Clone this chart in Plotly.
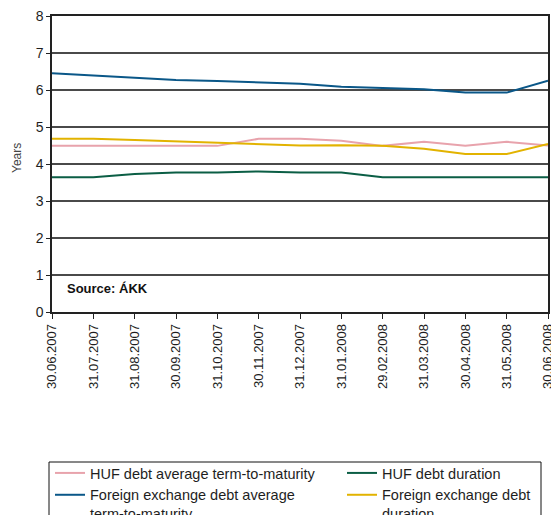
import plotly.graph_objects as go

# Month-end observation dates
dates = ["30.06.2007", "31.07.2007", "31.08.2007", "30.09.2007", "31.10.2007",
         "30.11.2007", "31.12.2007", "31.01.2008", "29.02.2008", "31.03.2008",
         "30.04.2008", "31.05.2008", "30.06.2008"]

# Years
huf_avg_ttm = [4.49, 4.49, 4.49, 4.49, 4.49, 4.68, 4.68, 4.63, 4.49, 4.60, 4.49, 4.60, 4.50]
huf_duration = [3.64, 3.64, 3.73, 3.77, 3.77, 3.80, 3.77, 3.77, 3.64, 3.64, 3.64, 3.64, 3.64]
fx_avg_ttm = [6.45, 6.39, 6.34, 6.27, 6.24, 6.20, 6.17, 6.09, 6.05, 6.02, 5.93, 5.93, 6.25]
fx_duration = [4.68, 4.68, 4.65, 4.61, 4.58, 4.54, 4.50, 4.51, 4.49, 4.41, 4.27, 4.27, 4.54]

# (legend label, values, colour, legend column)
series = [
    ("HUF debt average term-to-maturity", huf_avg_ttm, "#e8a3ac", "legend"),
    ("HUF debt duration", huf_duration, "#0b5e45", "legend2"),
    ("Foreign exchange debt average<br>term-to-maturity", fx_avg_ttm, "#0a5788", "legend"),
    ("Foreign exchange debt<br>duration", fx_duration, "#e2b300", "legend2"),
]

FONT = "Liberation Sans, Arial, sans-serif"
INK = "#1e1e1e"

W, H = 551, 515
L, R, T, B = 52, 3, 16, 203
plot_w = W - L - R
plot_h = H - T - B


def px_x(px):
    """Horizontal pixel position -> paper fraction."""
    return (px - L) / plot_w


def px_y(py):
    """Vertical pixel position (from top) -> paper fraction."""
    return (H - B - py) / plot_h


fig = go.Figure()
for name, vals, color, leg in series:
    fig.add_trace(go.Scatter(
        x=dates, y=vals, name=name, mode="lines",
        line=dict(color=color, width=2),
        legend=leg,
    ))

legend_common = dict(
    orientation="v",
    yanchor="top", xanchor="left",
    y=px_y(457),
    borderwidth=0,
    bgcolor="rgba(0,0,0,0)",
    font=dict(family=FONT, size=14.5, color=INK),
    valign="top",
    traceorder="normal",
    tracegroupgap=0,
)

fig.update_layout(
    width=W, height=H,
    margin=dict(l=L, r=R, t=T, b=B, autoexpand=False),
    paper_bgcolor="white", plot_bgcolor="white",
    font=dict(family=FONT, size=14, color=INK),
    showlegend=True,
    legend=dict(x=px_x(50), **legend_common),
    legend2=dict(x=px_x(342), **legend_common),
    shapes=[dict(
        type="rect", xref="paper", yref="paper",
        x0=px_x(49), x1=px_x(541), y0=px_y(462), y1=px_y(560),
        line=dict(color="#111111", width=1),
        fillcolor="rgba(0,0,0,0)", layer="above",
    )],
    annotations=[
        dict(
            text="<b>Source: ÁKK</b>",
            xref="paper", yref="paper",
            x=px_x(65), y=px_y(288),
            xanchor="left", yanchor="middle",
            showarrow=False,
            font=dict(family=FONT, size=13, color="#111111"),
        ),
        dict(
            text="Years",
            xref="paper", yref="paper",
            x=px_x(17), y=px_y(158),
            xanchor="center", yanchor="middle",
            textangle=-90, showarrow=False,
            font=dict(family=FONT, size=12, color="#444444"),
        ),
    ],
)

fig.update_xaxes(
    type="category",
    range=[0, len(dates) - 1],
    tickangle=-90,
    ticks="outside", ticklen=5, tickcolor="#222222", tickwidth=1,
    showline=True, linecolor="#222222", linewidth=1.5,
    mirror=True,
    showgrid=False,
    tickfont=dict(family=FONT, size=13, color=INK),
)

fig.update_yaxes(
    range=[0, 8], dtick=1,
    ticks="outside", ticklen=4, tickcolor="#222222", tickwidth=1,
    showline=True, linecolor="#222222", linewidth=1.5,
    mirror=True,
    showgrid=True, gridcolor="#4a4a4a", gridwidth=1.5,
    zeroline=False,
    tickfont=dict(family=FONT, size=14, color=INK),
)

fig.write_html("out.html")
